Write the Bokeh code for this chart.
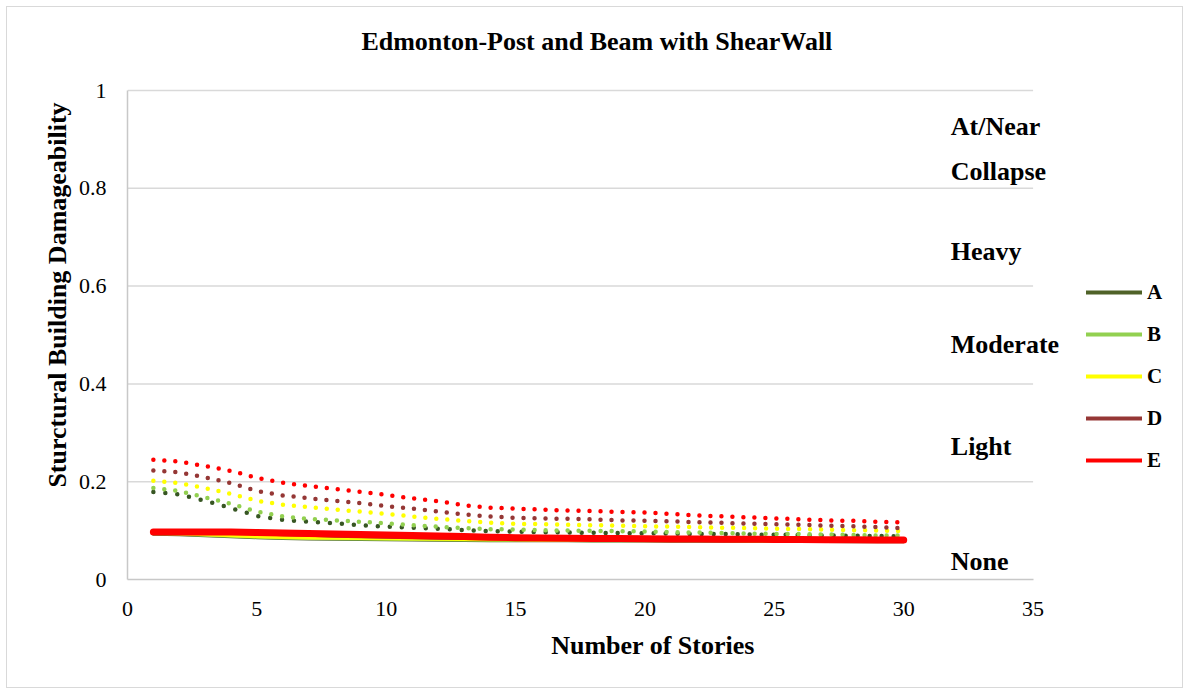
from bokeh.plotting import figure
from bokeh.models import Range1d, FixedTicker, Legend, LegendItem, Label
from bokeh.embed import file_html
from bokeh.resources import INLINE

# ---------------- data ----------------
stories = [1, 2, 3, 4, 5, 6, 7, 8, 9, 10, 11, 12, 13, 14, 15,
           16, 17, 18, 19, 20, 21, 22, 23, 24, 25, 26, 27, 28, 29, 30]

series_names = ["A", "B", "C", "D", "E"]

# solid lines (lower estimates)
A = [0.093, 0.092, 0.090, 0.088, 0.086, 0.0845, 0.0835, 0.083, 0.0825, 0.082,
     0.0815, 0.081, 0.0805, 0.080, 0.080, 0.0795, 0.0795, 0.079, 0.079, 0.079,
     0.0785, 0.0785, 0.0785, 0.078, 0.078, 0.078, 0.078, 0.0775, 0.0775, 0.0775]
B = [0.094, 0.093, 0.091, 0.089, 0.087, 0.0855, 0.0845, 0.084, 0.0835, 0.083,
     0.0825, 0.082, 0.0815, 0.081, 0.081, 0.0805, 0.0805, 0.080, 0.080, 0.080,
     0.0795, 0.0795, 0.0795, 0.079, 0.079, 0.079, 0.079, 0.0785, 0.0785, 0.0785]
C = [0.095, 0.094, 0.092, 0.090, 0.088, 0.0865, 0.0855, 0.085, 0.0845, 0.084,
     0.0835, 0.083, 0.0825, 0.082, 0.082, 0.0815, 0.0815, 0.081, 0.081, 0.081,
     0.0805, 0.0805, 0.0805, 0.080, 0.080, 0.080, 0.080, 0.0795, 0.0795, 0.0795]
D = [0.096, 0.096, 0.096, 0.0955, 0.094, 0.092, 0.091, 0.089, 0.088, 0.087,
     0.086, 0.085, 0.0845, 0.084, 0.0835, 0.083, 0.083, 0.0825, 0.0825, 0.082,
     0.082, 0.082, 0.0815, 0.0815, 0.0815, 0.081, 0.081, 0.081, 0.0805, 0.0805]
E = [0.097, 0.097, 0.097, 0.097, 0.096, 0.095, 0.094, 0.093, 0.092, 0.091,
     0.090, 0.089, 0.088, 0.0865, 0.0855, 0.085, 0.0845, 0.084, 0.084, 0.0835,
     0.083, 0.083, 0.0825, 0.0825, 0.082, 0.082, 0.0815, 0.0815, 0.081, 0.081]

# dotted lines (upper estimates)
A_upper = [0.179, 0.174, 0.161, 0.146, 0.130, 0.122, 0.118, 0.115, 0.111, 0.108,
           0.106, 0.104, 0.101, 0.099, 0.098, 0.097, 0.096, 0.0955, 0.095, 0.0945,
           0.094, 0.093, 0.093, 0.092, 0.0915, 0.091, 0.090, 0.0895, 0.089, 0.0885]
B_upper = [0.187, 0.181, 0.168, 0.155, 0.139, 0.129, 0.124, 0.121, 0.118, 0.115,
           0.111, 0.108, 0.105, 0.103, 0.102, 0.101, 0.100, 0.0995, 0.099, 0.098,
           0.097, 0.096, 0.095, 0.094, 0.093, 0.093, 0.092, 0.091, 0.090, 0.090]
C_upper = [0.202, 0.197, 0.187, 0.175, 0.161, 0.153, 0.148, 0.143, 0.139, 0.134,
           0.129, 0.124, 0.120, 0.116, 0.114, 0.113, 0.112, 0.111, 0.110, 0.109,
           0.108, 0.107, 0.106, 0.105, 0.104, 0.103, 0.102, 0.101, 0.100, 0.099]
D_upper = [0.223, 0.219, 0.209, 0.197, 0.181, 0.172, 0.166, 0.161, 0.156, 0.150,
           0.145, 0.139, 0.133, 0.129, 0.126, 0.125, 0.124, 0.123, 0.121, 0.120,
           0.119, 0.117, 0.116, 0.114, 0.113, 0.112, 0.110, 0.109, 0.107, 0.105]
E_upper = [0.245, 0.241, 0.232, 0.222, 0.208, 0.198, 0.191, 0.1855, 0.179, 0.173,
           0.166, 0.160, 0.152, 0.147, 0.145, 0.143, 0.141, 0.140, 0.138, 0.137,
           0.134, 0.131, 0.129, 0.127, 0.125, 0.123, 0.121, 0.120, 0.118, 0.117]

x_ticks = [0, 5, 10, 15, 20, 25, 30, 35]
y_ticks = [0, 0.2, 0.4, 0.6, 0.8, 1]
y_tick_labels = ["0", "0.2", "0.4", "0.6", "0.8", "1"]

damage_states = ["At/Near", "Collapse", "Heavy", "Moderate", "Light", "None"]

title_text = "Edmonton-Post and Beam with ShearWall"
x_label = "Number of Stories"
y_label = "Sturctural Building Damageability"

# ---------------- styling ----------------
FONT = "Liberation Serif"
colors = ["#4F6228", "#92D050", "#FFFF00", "#953735", "#FF0000"]
dot_colors = ["#375623", "#92D050", "#FFFF00", "#953735", "#FF0000"]
solid_widths = [3.5, 3.5, 3.5, 3.5, 7]
dot_dashes = ["0 12", "0 11", "0 11", "0 11", "0 11"]
GRID = "#d9d9d9"

# The plotting frame is widened (right) and raised (top) so that the
# side labels, legend and title, which sit outside the 0-35 / 0-1 area,
# are not clipped. Axis lines and grid lines are bounded to the data area.
X_MAX = 40.62
Y_MAX = 1.1636

p = figure(width=1177, height=682,
           x_range=Range1d(0, X_MAX), y_range=Range1d(0, Y_MAX),
           output_backend="svg", toolbar_location=None,
           min_border_left=120, min_border_right=6,
           min_border_top=3, min_border_bottom=110)

p.margin = (6, 0, 0, 6)
p.background_fill_color = "white"
p.border_fill_color = "white"
p.outline_line_color = None
p.styles = {"border": "1.5px solid #d9d9d9", "box-sizing": "border-box"}

# axes
p.xaxis.ticker = FixedTicker(ticks=x_ticks)
p.yaxis.ticker = FixedTicker(ticks=y_ticks)
p.xaxis.bounds = (x_ticks[0], x_ticks[-1])
p.yaxis.bounds = (y_ticks[0], y_ticks[-1])
p.yaxis.major_label_overrides = dict(zip(y_ticks, y_tick_labels))
for ax in (p.xaxis[0], p.yaxis[0]):
    ax.major_tick_line_color = None
    ax.minor_tick_line_color = None
    ax.axis_line_color = "#c8c8c8"
    ax.axis_line_width = 1.5
    ax.major_label_text_font = FONT
    ax.major_label_text_font_size = "22px"
    ax.major_label_text_color = "black"
    ax.axis_label_text_font = FONT
    ax.axis_label_text_font_size = "26px"
    ax.axis_label_text_font_style = "bold"
    ax.axis_label_text_color = "black"
p.xaxis.axis_label = x_label
p.yaxis.axis_label = y_label
p.xaxis.major_label_standoff = 16
p.yaxis.major_label_standoff = 15
p.xaxis.axis_label_standoff = 12
p.yaxis.axis_label_standoff = 4

p.xgrid.visible = False
p.ygrid.visible = False

# horizontal grid lines limited to the 0-35 data area
grid_y = y_ticks[1:]
p.segment(x0=[x_ticks[0]] * len(grid_y), y0=grid_y,
          x1=[x_ticks[-1]] * len(grid_y), y1=grid_y,
          line_color=GRID, line_width=1.5)

uppers = [A_upper, B_upper, C_upper, D_upper, E_upper]
lowers = [A, B, C, D, E]

# dotted upper curves
for i in range(5):
    p.line(stories, uppers[i], line_color=dot_colors[i], line_width=4.5,
           line_dash=dot_dashes[i], line_cap="round")

# solid lower curves
for i in range(5):
    p.line(stories, lowers[i], line_color=colors[i], line_width=solid_widths[i],
           line_cap="round", line_join="round")

# legend: hidden proxy renderers (same data) so every legend line has one weight
items = []
for i, name in enumerate(series_names):
    r = p.line(stories, lowers[i], line_color=colors[i], line_width=4,
               line_cap="round", visible=False)
    items.append(LegendItem(label=name, renderers=[r]))
legend = Legend(items=items, location=(959, 106), orientation="vertical",
                glyph_width=56, glyph_height=26, label_height=26, spacing=16,
                padding=0, margin=0, label_standoff=5,
                label_text_font=FONT, label_text_font_size="21px",
                label_text_font_style="bold", label_text_color="black",
                border_line_color=None, background_fill_alpha=0)
p.add_layout(legend)

# damage-state labels
damage_label_y = [0.927, 0.835, 0.671, 0.481, 0.273, 0.0375]
for txt, yy in zip(damage_states, damage_label_y):
    p.add_layout(Label(x=31.82, y=yy, text=txt, text_align="left",
                       text_baseline="middle", text_font=FONT,
                       text_font_size="26px", text_font_style="bold",
                       text_color="black"))

# title
p.add_layout(Label(x=18.14, y=1.1, text=title_text, text_align="center",
                   text_baseline="middle", text_font=FONT,
                   text_font_size="26px", text_font_style="bold",
                   text_color="black"))

open("out.html", "w").write(file_html(p, INLINE))
